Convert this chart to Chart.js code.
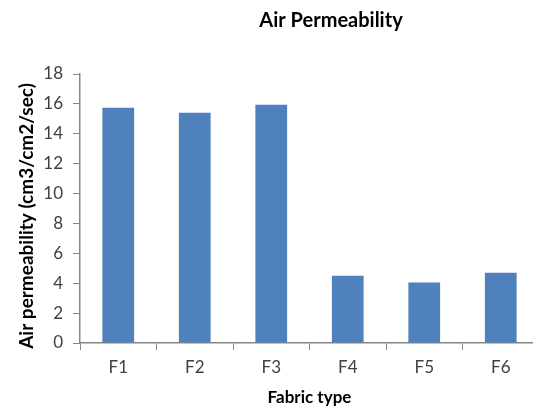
<!DOCTYPE html>
<html>
<head>
<meta charset="utf-8">
<script src="https://cdn.jsdelivr.net/npm/chart.js@4/dist/chart.umd.min.js"></script>
<style>
  html, body { margin: 0; padding: 0; background: #fff; overflow: hidden; }
  #wrap { width: 540px; height: 412px; }
</style>
</head>
<body>
<div id="wrap"><canvas id="myChart"></canvas></div>
<script>
// Data
const fabrics = ["F1", "F2", "F3", "F4", "F5", "F6"];
const permeability = [15.75, 15.4, 15.95, 4.5, 4.05, 4.7];
const yTicks = [0, 2, 4, 6, 8, 10, 12, 14, 16, 18];

const font = "Lato, 'Open Sans', sans-serif";
const axisGrey = "#868686";

// Title and y-axis title sit off-centre in the original, so draw them ourselves
const titlesPlugin = {
  id: "offsetTitles",
  afterDraw(chart) {
    const c = chart.ctx;
    c.save();
    c.fillStyle = "#000";
    c.textAlign = "center";
    c.textBaseline = "middle";
    c.font = "bold 20px " + font;
    c.fillText("Air Permeability", 331, 21);
    c.translate(27, 216);
    c.rotate(-Math.PI / 2);
    c.font = "bold 19px " + font;
    c.fillText("Air permeability (cm3/cm2/sec)", 0, 0);
    c.restore();
  }
};

const ctx = document.getElementById("myChart").getContext("2d");
const myChart = new Chart(ctx, {
  type: "bar",
  data: {
    labels: fabrics,
    datasets: [{
      data: permeability,
      backgroundColor: "#4F81BD",
      barPercentage: 0.415,
      categoryPercentage: 1
    }]
  },
  options: {
    responsive: true,
    maintainAspectRatio: false,
    animation: false,
    layout: { padding: { top: 74, right: 1, left: 0, bottom: 0 } },
    plugins: {
      legend: { display: false },
      title: { display: false },
      tooltip: { enabled: false }
    },
    scales: {
      x: {
        offset: true,
        grid: {
          offset: true,
          drawOnChartArea: false,
          color: axisGrey,
          tickLength: 7
        },
        border: { color: axisGrey, width: 1.5 },
        ticks: { color: "#404040", font: { family: font, size: 17 }, padding: 7 },
        title: {
          display: true,
          text: "Fabric type",
          color: "#000",
          font: { family: font, size: 17, weight: "bold" },
          padding: { top: 4, bottom: 4 }
        },
        afterFit(scale) { scale.height = 69; }
      },
      y: {
        min: 0,
        max: 18,
        afterBuildTicks(scale) { scale.ticks = yTicks.map(v => ({ value: v })); },
        grid: {
          drawOnChartArea: false,
          color: axisGrey,
          tickLength: 7
        },
        border: { color: axisGrey, width: 1.5 },
        ticks: { color: "#404040", font: { family: font, size: 17 }, padding: 10 },
        afterFit(scale) { scale.width = 80; }
      }
    }
  },
  plugins: [titlesPlugin]
});
</script>
</body>
</html>
